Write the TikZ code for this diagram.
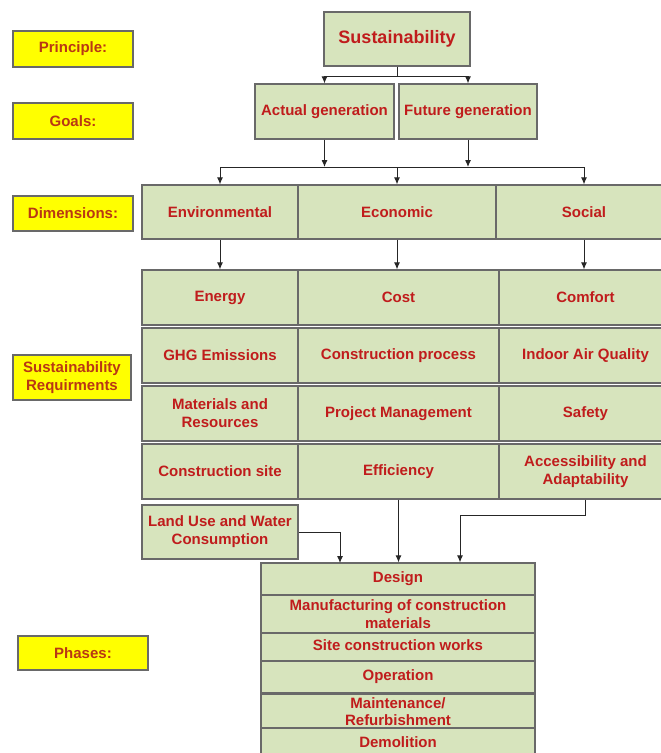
\documentclass[tikz,border=0pt]{standalone}
\usepackage{fontspec}
\setmainfont{Liberation Sans}
\usetikzlibrary{arrows.meta}
\definecolor{boxgreen}{RGB}{215,228,189}
\definecolor{boxline}{RGB}{105,105,105}
\definecolor{txtred}{RGB}{192,28,28}
\definecolor{lbltxt}{RGB}{185,55,20}
\definecolor{lblyellow}{RGB}{255,255,0}
\tikzset{
  cell/.style={draw=boxline, fill=boxgreen, line width=1.2pt, text=txtred,
    font=\bfseries\fontsize{15}{18}\selectfont, align=center, inner sep=0pt},
  lbl/.style={draw=boxline, fill=lblyellow, line width=1.2pt, text=lbltxt,
    font=\bfseries\fontsize{15}{18}\selectfont, align=center, inner sep=0pt},
  conn/.style={draw=black!85, line width=1pt},
  arr/.style={conn, -{Latex[length=7pt,width=6pt]}}
}
\begin{document}
\begin{tikzpicture}[x=1pt,y=-1pt]
\clip (0,0) rectangle (661,753);
\fill[white] (0,0) rectangle (661,753);

% labels
\node[lbl, minimum width=120pt, minimum height=36pt] (lp) at (73,49) {Principle:};
\node[lbl, minimum width=120pt, minimum height=36pt] (lg) at (73,121) {Goals:};
\node[lbl, minimum width=120pt, minimum height=35pt] (ld) at (73,213.5) {Dimensions:};
\node[lbl, minimum width=118pt, minimum height=45pt] (lr) at (72,377.5) {Sustainability\\Requirments};
\node[lbl, minimum width=130pt, minimum height=34pt] (lph) at (83,653) {Phases:};

% principle and goals
\node[cell, minimum width=146pt, minimum height=54pt, font=\bfseries\fontsize{18}{21}\selectfont] (sus) at (397,39) {Sustainability};
\node[cell, minimum width=139pt, minimum height=55pt] (act) at (324.5,111.5) {Actual generation};
\node[cell, minimum width=138pt, minimum height=55pt] (fut) at (468,111.5) {Future generation};

% dimensions
\node[cell, minimum width=156pt, minimum height=54pt] (env) at (220,212) {Environmental};
\node[cell, minimum width=198pt, minimum height=54pt] (eco) at (397,212) {Economic};
\node[cell, minimum width=176pt, minimum height=54pt] (soc) at (584,212) {Social};

% requirements
\node[cell, minimum width=156pt, minimum height=55pt] (en) at (220,297.5) {Energy};
\node[cell, minimum width=201pt, minimum height=55pt] (cost) at (398.5,297.5) {Cost};
\node[cell, minimum width=173pt, minimum height=55pt] (comf) at (585.5,297.5) {Comfort};

\node[cell, minimum width=156pt, minimum height=55pt] (ghg) at (220,355.5) {GHG Emissions};
\node[cell, minimum width=201pt, minimum height=55pt] (cp) at (398.5,355.5) {Construction process};
\node[cell, minimum width=173pt, minimum height=55pt] (iaq) at (585.5,355.5) {Indoor Air Quality};

\node[cell, minimum width=156pt, minimum height=55pt] (mat) at (220,413.5) {Materials and\\Resources};
\node[cell, minimum width=201pt, minimum height=55pt] (pm) at (398.5,413.5) {Project Management};
\node[cell, minimum width=173pt, minimum height=55pt] (saf) at (585.5,413.5) {Safety};

\node[cell, minimum width=156pt, minimum height=55pt] (cs) at (220,471.5) {Construction site};
\node[cell, minimum width=201pt, minimum height=55pt] (eff) at (398.5,471.5) {Efficiency};
\node[cell, minimum width=173pt, minimum height=55pt] (acc) at (585.5,471.5) {Accessibility and\\Adaptability};

\node[cell, minimum width=156pt, minimum height=54pt] (land) at (220,532) {Land Use and Water\\Consumption};

% phases
\node[cell, minimum width=274pt, minimum height=32pt] (des) at (398,579) {Design};
\node[cell, minimum width=274pt, minimum height=38pt] (man) at (398,614) {Manufacturing of construction\\materials};
\node[cell, minimum width=274pt, minimum height=28pt] (site) at (398,647) {\raisebox{3pt}{Site construction works}};
\node[cell, minimum width=274pt, minimum height=32pt] (op) at (398,677) {Operation};
\node[cell, minimum width=274pt, minimum height=35pt, font=\bfseries\fontsize{15}{16.5}\selectfont] (mr) at (398,711.5) {Maintenance/\\Refurbishment};
\node[cell, minimum width=274pt, minimum height=32pt] (dem) at (398,744) {\raisebox{3pt}{Demolition}};

% connectors top
\coordinate (j1) at (397,76);
\draw[conn] (sus.south) -- (j1);
\draw[arr] (j1) -| (act.north);
\draw[arr] (j1) -| (fut.north);

\coordinate (j2) at (397,167);
\draw[arr] (act.south) -- (act.south |- j2);
\draw[arr] (fut.south) -- (fut.south |- j2);
\draw[conn] (env.north |- j2) -- (soc.north |- j2);
\draw[arr] (env.north |- j2) -- (env.north);
\draw[arr] (j2) -- (eco.north);
\draw[arr] (soc.north |- j2) -- (soc.north);

% dimensions to requirements
\draw[arr] (env.south) -- (env.south |- en.north);
\draw[arr] (eco.south) -- (eco.south |- cost.north);
\draw[arr] (soc.south) -- (soc.south |- comf.north);

% to phases
\coordinate (p1) at (340,563);
\draw[arr] (land.east) -| (p1);
\draw[arr] (eff.south) -- (eff.south |- des.north);
\coordinate (p2) at (460,515);
\draw[arr] (acc.south) |- (p2) -- (p2 |- des.north);
\end{tikzpicture}
\end{document}
